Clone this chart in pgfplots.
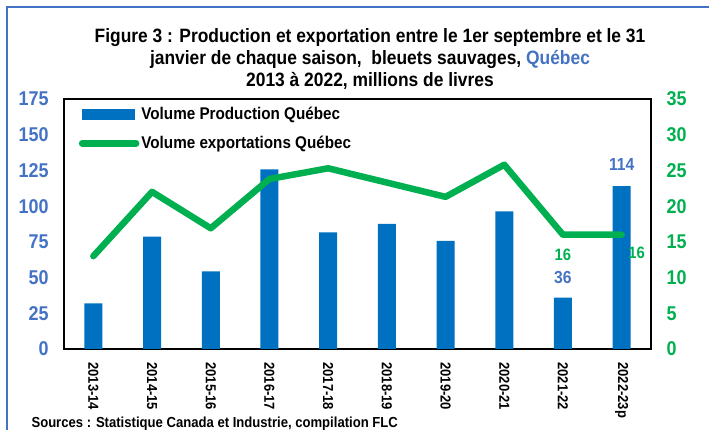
\documentclass[border=0pt]{standalone}
\usepackage{fontspec}
\setmainfont{Liberation Sans}[FakeStretch=0.9]
\usepackage{pgfplots}
\pgfplotsset{compat=1.18}
\definecolor{barblue}{HTML}{0070C0}
\definecolor{linegreen}{HTML}{00B050}
\definecolor{tickblue}{HTML}{4472C4}
\newcommand{\fs}[1]{\bfseries\fontsize{#1}{#1}\selectfont}
\begin{document}
\begin{tikzpicture}
\useasboundingbox (0bp,0bp) rectangle (709bp,430bp);
\draw[tickblue, line width=2.2bp] (7bp,0bp) -- (7bp,423bp) -- (709bp,423bp);
\node[font=\fs{19.4}, anchor=base] at (370bp,387bp) {Figure 3 : Production et exportation entre le 1er septembre et le 31};
\node[font=\fs{19.4}, anchor=base] at (370bp,365bp) {janvier de chaque saison,\ \ bleuets sauvages, {\color{tickblue}Québec}};
\node[font=\fs{19.4}, anchor=base] at (370bp,343bp) {2013 à 2022, millions de livres};
\node[font=\fs{14.6}, anchor=base west] at (28bp,3bp) {Sources : Statistique Canada et Industrie, compilation FLC};

\begin{axis}[
  at={(64bp,81bp)}, anchor=south west,
  width=587bp, height=250bp, scale only axis,
  xmin=-0.5, xmax=9.5, ymin=0, ymax=175,
  ytick={0,25,...,175},
  xtick={0,...,9},
  xticklabels={2013-14,2014-15,2015-16,2016-17,2017-18,2018-19,2019-20,2020-21,2021-22,2022-23p},
  x tick label style={rotate=-90, anchor=west, font=\fs{14.5}},
  xticklabel shift=10bp,
  y tick label style={font=\fs{20}, color=tickblue, xshift=-12bp},
  /pgf/number format/assume math mode=true,
  major tick length=0pt,
  axis line style={line width=1.5bp, black},
  clip=false,
]
\addplot[ybar, bar width=18bp, bar shift=0pt, fill=barblue, draw=none]
 coordinates {(0,32.0) (1,78.6) (2,54.4) (3,125.8) (4,81.7) (5,87.5) (6,75.6) (7,96.4) (8,36) (9,114)};
\node[font=\fs{17.5}, color=tickblue] at (axis cs:8,36) [yshift=20bp] {36};
\node[font=\fs{17.5}, color=tickblue] at (axis cs:9,114) [yshift=22bp] {114};
\end{axis}

\begin{axis}[
  at={(64bp,81bp)}, anchor=south west,
  width=587bp, height=250bp, scale only axis,
  xmin=-0.5, xmax=9.5, ymin=0, ymax=35,
  axis y line*=right, axis x line=none,
  ytick={0,5,...,35},
  y tick label style={font=\fs{20}, color=linegreen, xshift=12bp},
  /pgf/number format/assume math mode=true,
  major tick length=0pt,
  axis line style={line width=1.5bp, black},
  clip=false,
  legend style={at={(0.025,0.975)}, anchor=north west, draw=none, fill=none,
    font=\fs{17}, row sep=11bp, inner sep=0pt},
  legend cell align=left,
]
\addlegendimage{legend image code/.code={\fill[barblue] (0bp,-5bp) rectangle (52bp,5bp);}}
\addlegendentry{Volume Production Québec}
\addplot[linegreen, line width=6.5bp, line join=round, line cap=round, no marks,
  legend image code/.code={\draw[linegreen, line width=6.5bp, line cap=round] (0bp,0bp) -- (54bp,0bp);}]
 coordinates {(0,13.0) (1,22.0) (2,16.9) (3,23.8) (4,25.3) (5,23.3) (6,21.3) (7,25.8) (8,16) (9,16)};
\addlegendentry{Volume exportations Québec}
\node[font=\fs{16.5}, color=linegreen] at (axis cs:8,16) [yshift=-20bp] {16};
\node[font=\fs{16.5}, color=linegreen] at (axis cs:9,16) [xshift=15bp, yshift=-18bp] {16};
\end{axis}
\end{tikzpicture}
\end{document}
